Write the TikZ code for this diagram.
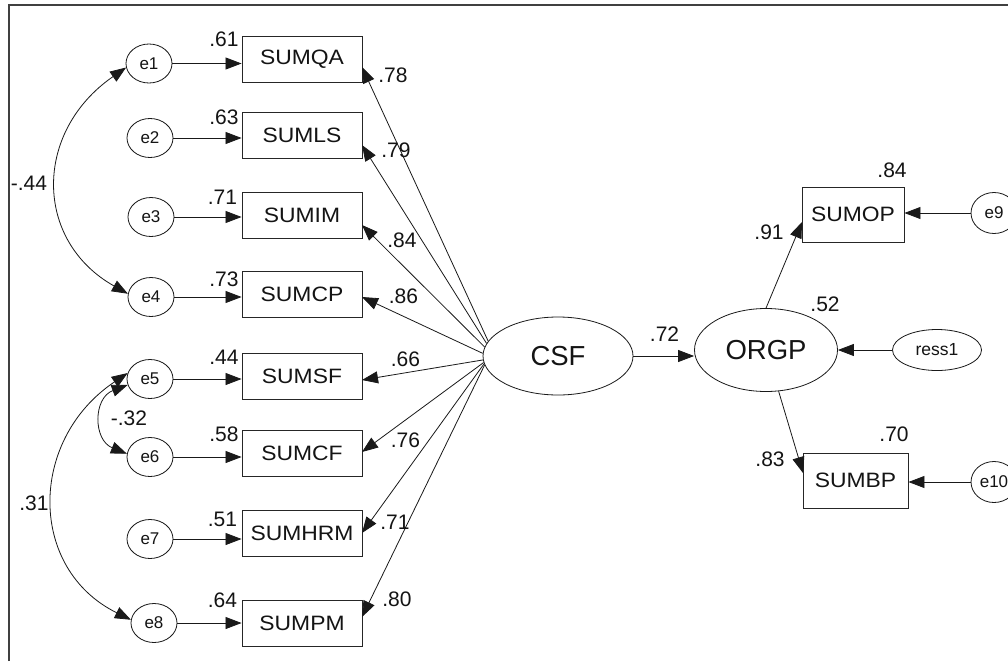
\documentclass[tikz,border=0pt]{standalone}
\usepackage{fontspec}
\setmainfont{Liberation Sans}
\newfontfamily\boxfont{Liberation Sans}[FakeStretch=1.1]
\usetikzlibrary{arrows.meta,shapes.geometric}
\begin{document}
\begin{tikzpicture}[x=1pt,y=-1pt,
  obs/.style={draw=black!85, line width=0.9pt, rectangle, minimum width=120pt, minimum height=46pt, inner sep=0pt, text=black!92, font=\boxfont\fontsize{20.8}{24}\selectfont},
  err/.style={draw=black!90, line width=0.8pt, ellipse, minimum width=46pt, minimum height=39pt, inner sep=0pt, text=black!92, font=\fontsize{17}{19}\selectfont},
  lat/.style={draw=black!90, line width=0.8pt, ellipse, inner sep=0pt, text=black!92, font=\fontsize{27.5}{32}\selectfont},
  num/.style={inner sep=0pt, text=black!92, font=\fontsize{21}{24}\selectfont},
  arr/.style={draw=black!90, line width=0.8pt, -{Triangle[length=16pt,width=12pt]}},
  cov/.style={draw=black!90, line width=0.8pt, {Triangle[length=16pt,width=12pt]}-{Triangle[length=16pt,width=12pt]}}
]
\clip (0,0) rectangle (1008,661);
\fill[white] (0,0) rectangle (1008,661);
\draw[line width=2pt, black!75] (8.5,661) -- (8.5,5) -- (1008,5);

% observed indicators
\node[obs] (qa)  at (302,59)    {SUMQA};
\node[obs] (ls)  at (302,135)   {SUMLS};
\node[obs] (im)  at (302,215)   {SUMIM};
\node[obs] (cp)  at (302,294.5) {SUMCP};
\node[obs] (sf)  at (302,376.5) {SUMSF};
\node[obs] (cf)  at (302,453)   {SUMCF};
\node[obs] (hrm) at (302,533.5) {SUMHRM};
\node[obs] (pm)  at (302,623.5) {SUMPM};

% errors
\node[err] (e1) at (149,63.5) {e1};
\node[err] (e2) at (150,138) {e2};
\node[err] (e3) at (151,217) {e3};
\node[err] (e4) at (151,297) {e4};
\node[err] (e5) at (150,379) {e5};
\node[err] (e6) at (150,457) {e6};
\node[err] (e7) at (150,539) {e7};
\node[err] (e8) at (154,623) {e8};

% latent
\node[lat, minimum width=150pt, minimum height=78pt] (csf) at (558,356) {CSF};
\node[lat, minimum width=143pt, minimum height=83pt] (orgp) at (766,350) {ORGP};
\node[err, minimum width=89pt, minimum height=41pt, font=\fontsize{17.5}{20}\selectfont] (ress1) at (937,350) {ress1};

\node[obs, minimum width=102pt, minimum height=55pt] (op) at (853,214.5) {SUMOP};
\node[obs, minimum width=105pt, minimum height=55pt] (bp) at (855.5,480.5) {SUMBP};
\node[err, minimum height=41pt] (e9)  at (994,213) {e9};
\node[err, minimum height=41pt] (e10) at (994,482) {e10};

% error arrows
\foreach \e/\b in {e1/qa,e2/ls,e3/im,e4/cp,e5/sf,e6/cf,e7/hrm,e8/pm}
  \draw[arr] (\e.east) -- (\e.east -| \b.west);
\draw[arr] (e9.west) -- (e9.west -| op.east);
\draw[arr] (e10.west) -- (e10.west -| bp.east);
\draw[arr] (ress1.west) -- (orgp.east);

% loading tips
\coordinate (tqa)  at (362,67);
\coordinate (tls)  at (362,145);
\coordinate (tim)  at (362,225);
\coordinate (tcp)  at (362,297);
\coordinate (tsf)  at (362,380);
\coordinate (tcf)  at (362,452);
\coordinate (thrm) at (362,533);
\coordinate (tpm)  at (362,617);
\draw[arr] (csf.168) -- (tqa);
\draw[arr] (csf.170) -- (tls);
\draw[arr] (csf.173) -- (tim);
\draw[arr] (csf.178) -- (tcp);
\draw[arr] (csf.183) -- (tsf);
\draw[arr] (csf.185) -- (tcf);
\draw[arr] (csf.186) -- (thrm);
\draw[arr] (csf.187) -- (tpm);

\draw[arr] (csf.east) -- (csf.east -| orgp.west);
\coordinate (top) at (802,222);
\coordinate (tbp) at (803,473);
\draw[arr] (orgp.north) -- (top);
\draw[arr] (orgp.-73) -- (tbp);

% covariances
\draw[cov] (e1.190) .. controls (33,132) and (34,241) .. (e4.172);
\draw[cov] (e5.195) .. controls (93,398) and (93,440) .. (e6.172);
\draw[cov] (e5.165) .. controls (28,440) and (28,569) .. (e8.172);

% numbers
\node[num] at (224,39.5) {.61};
\node[num] at (224,117.5) {.63};
\node[num] at (222.5,197.5) {.71};
\node[num] at (224,279) {.73};
\node[num] at (224,357.5) {.44};
\node[num] at (224,434.5) {.58};
\node[num] at (222.5,519.5) {.51};
\node[num] at (222.5,600.5) {.64};

\node[num] at (393,75) {.78};
\node[num] at (396,150) {.79};
\node[num] at (402,240) {.84};
\node[num] at (403.5,296.5) {.86};
\node[num] at (405.5,359.5) {.66};
\node[num] at (405.5,440) {.76};
\node[num] at (395,522.5) {.71};
\node[num] at (397,599.5) {.80};

\node[num] at (664.5,334.5) {.72};
\node[num] at (825,304.5) {.52};
\node[num] at (892,170.5) {.84};
\node[num] at (769,232.5) {.91};
\node[num] at (894,434.5) {.70};
\node[num] at (770,459.5) {.83};

\node[num] at (29,183.5) {-.44};
\node[num] at (129,418.5) {-.32};
\node[num] at (34,503.5) {.31};
\end{tikzpicture}
\end{document}
